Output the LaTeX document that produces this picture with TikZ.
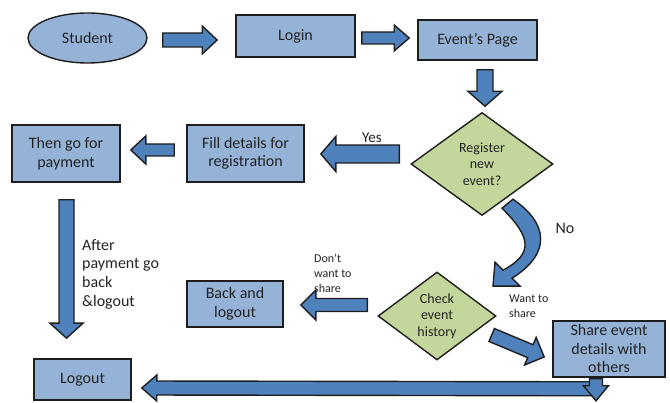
\documentclass[tikz,border=0pt]{standalone}
\usepackage{fontspec}
\setmainfont{Carlito}
\usepackage{tikz}
\usetikzlibrary{shapes.geometric}
\usetikzlibrary{calc}

% block arrow: #1 body half width, #2 head half width, #3 tail, #4 tip
\newcommand{\fatarrow}[4]{%
  \coordinate (fa-base) at ($(#4)!15pt!(#3)$);
  \filldraw[arrowfill] ($(#3)!#1pt!90:(#4)$) -- ($(fa-base)!#1pt!90:(#4)$)
    -- ($(fa-base)!#2pt!90:(#4)$) -- (#4) -- ($(fa-base)!#2pt!-90:(#4)$)
    -- ($(fa-base)!#1pt!-90:(#4)$) -- ($(#3)!#1pt!-90:(#4)$) -- cycle;
}

\begin{document}
\begin{tikzpicture}[x=1pt, y=1pt,
    box/.style={draw=edgegray, line width=1.6pt, fill=boxblue, align=center,
      inner sep=2pt, text=textgray, font=\fontsize{16}{18.5}\selectfont},
    decision/.style={diamond, draw=edgegray, line width=1.4pt, fill=diamondgreen,
      align=center, inner sep=0pt, text=textgray, font=\fontsize{14}{16.5}\selectfont},
    arrowfill/.style={draw=edgegray, line width=1.4pt, fill=arrowblue, line join=miter},
    note/.style={align=left, inner sep=0pt, text=textgray, font=\fontsize{12}{15}\selectfont}]
        \definecolor{boxblue}{RGB}{149,179,215}
        \definecolor{arrowblue}{RGB}{79,129,189}
        \definecolor{diamondgreen}{RGB}{195,214,155}
        \definecolor{edgegray}{RGB}{30,30,30}
        \definecolor{textgray}{RGB}{35,35,35}
        \useasboundingbox (0,0) rectangle (670,403);

        % Top row
        \node[box, ellipse, line width=1.4pt, minimum width=119pt, minimum height=50pt] (student) at (87.5,365) {Student};
        \node[box, minimum width=119pt, minimum height=42pt] (login) at (295.5,367) {Login};
        \node[box, minimum width=119pt, minimum height=40pt] (events) at (477.5,363) {Event’s Page};

        % Decisions
        \node[decision, minimum width=142pt, minimum height=103pt] (register) at (482,239) {Register\\new\\event?};
        \node[decision, minimum width=118pt, minimum height=88pt] (check) at (437,87) {Check\\event\\history};

        % Other steps
        \node[box, minimum width=117pt, minimum height=57pt] (fill) at (245.5,249.5) {Fill details for\\registration};
        \node[box, minimum width=108pt, minimum height=57pt] (payment) at (66,249.5) {Then go for\\payment};
        \node[box, minimum width=96pt, minimum height=46pt] (back) at (235,99) {Back and\\logout};
        \node[box, minimum width=112pt, minimum height=56pt] (share) at (609,54) {Share event\\details with\\others};
        \node[box, minimum width=97pt, minimum height=41pt] (logout) at (82.5,23.5) {Logout};

        % Arrow ends
        \coordinate (a1s) at ($(student.east)+(15,-2)$);
        \coordinate (a1e) at ($(login.west)+(-18,-4)$);
        \coordinate (a2s) at ($(login.east)+(6,-2)$);
        \coordinate (a2e) at ($(events.west)+(-8,2)$);
        \coordinate (a3s) at ($(events.south)+(7.5,-9)$);
        \coordinate (a3e) at ($(register.north)+(3,5.5)$);
        \coordinate (a4s) at ($(register.west)+(-11,10)$);
        \coordinate (a4e) at ($(fill.east)+(16,-0.5)$);
        \coordinate (a5s) at ($(fill.west)+(-12,3.5)$);
        \coordinate (a5e) at ($(payment.east)+(10,3.5)$);
        \coordinate (a6s) at ($(payment.south)+(0.5,-17)$);
        \coordinate (a6e) at ($(logout.north)+(-16,20)$);
        \coordinate (a7s) at ($(check.west)+(-10,11)$);
        \coordinate (a7e) at ($(back.east)+(17,-1)$);
        \coordinate (a8s) at ($(check.east)+(-5,-19)$);
        \coordinate (a8e) at ($(share.west)+(-8,-8)$);
        \coordinate (a9s) at ($(share.south)+(-17,-11)$);
        \coordinate (a9e) at ($(logout.east)+(10,-8.5)$);
        \coordinate (a10s) at ($(share.south)+(-13,-1)$);
        \coordinate (a10e) at ($(share.south)+(-13,-23)$);

        % Block arrows
        \fatarrow{7}{14}{a1s}{a1e}
        \fatarrow{6}{13}{a2s}{a2e}
        \fatarrow{8}{17}{a3s}{a3e}
        \fatarrow{9}{17.5}{a4s}{a4e}
        \fatarrow{6}{14}{a5s}{a5e}
        \fatarrow{7.5}{16.5}{a6s}{a6e}
        \fatarrow{6.5}{15}{a7s}{a7e}
        \fatarrow{7}{15}{a8s}{a8e}
        \fatarrow{7}{13}{a9s}{a9e}
        \fatarrow{6.5}{12.5}{a10s}{a10e}

        % Curved "No" arrow
        \filldraw[arrowfill, shift={(register.south)}] (20,8) .. controls (48,-20) and (53,-37) .. (21,-54)
            -- (13,-46) -- (11,-70) -- (38,-70) -- (30,-62) .. controls (70,-37) and (66,-7) .. (31,17) -- cycle;

        % Labels
        \node[note, font=\fontsize{15}{18}\selectfont] (yes) at (372,265) {Yes};
        \node[note, font=\fontsize{16}{18}\selectfont] (no) at (565,175) {No};
        \node[note, anchor=west, font=\fontsize{16}{18.7}\selectfont] (afterpay) at (82,129) {After\\payment go\\back\\\&logout};
        \node[note, anchor=west] (dontshare) at (314,130) {Don’t\\want to\\share};
        \node[note, anchor=west] (wantshare) at (509,96.5) {Want to\\share};
\end{tikzpicture}
\end{document}
